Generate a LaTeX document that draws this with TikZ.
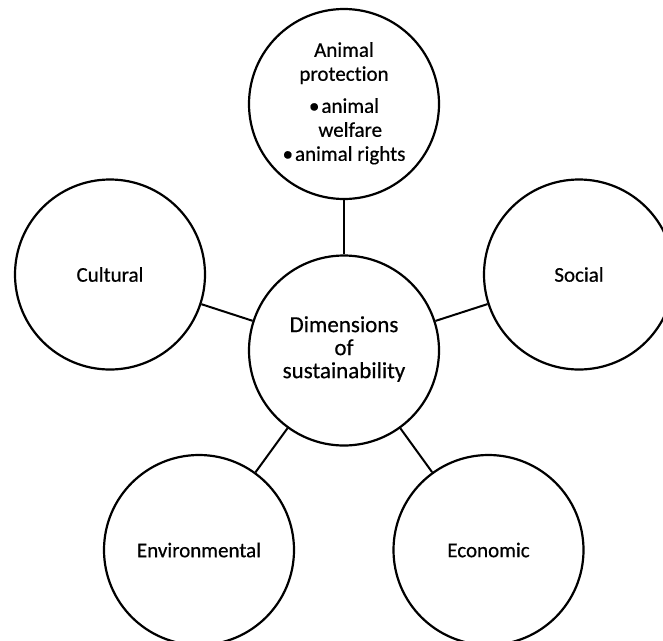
\documentclass[tikz,border=0pt]{standalone}
\usepackage{fontspec}
\setmainfont{Carlito}[Ligatures=NoCommon,RawFeature={embolden=0.5}]
\begin{document}
\begin{tikzpicture}[x=1pt,y=-1pt,
  dimension/.style={circle,draw,line width=2.2pt,minimum size=190pt,inner sep=0pt,
    font=\fontsize{21}{24}\selectfont},
  hub/.style={dimension,font=\fontsize{23}{23}\selectfont},
  link/.style={line width=2pt}]
  \useasboundingbox (0,0) rectangle (663,640);
  \clip (0,0) rectangle (663,640);

  % central circle and the five dimensions around it
  \node[hub] (hub) at (344,350.5)
    {\begin{tabular}[t]{@{}c@{}}Dimensions\\of\\sustainability\end{tabular}};
  \node[dimension] (animal) at (344,104)
    {\begin{tabular}[t]{@{}c@{}}Animal\\protection\\[8pt]
      •\kern2pt animal\\\hphantom{•\kern2pt}welfare\\•\kern2pt animal rights\end{tabular}};
  \node[dimension] (cultural) at (110,274.5) {Cultural};
  \node[dimension] (social) at (579,274.5) {Social};
  \node[dimension] (environmental) at (199,550) {Environmental};
  \node[dimension] (economic) at (488.5,550) {Economic};

  % spokes from the hub
  \draw[link] (hub) -- (animal);
  \draw[link] (hub) -- (cultural);
  \draw[link] (hub) -- (social);
  \draw[link] (hub) -- (environmental);
  \draw[link] (hub) -- (economic);
\end{tikzpicture}
\end{document}
